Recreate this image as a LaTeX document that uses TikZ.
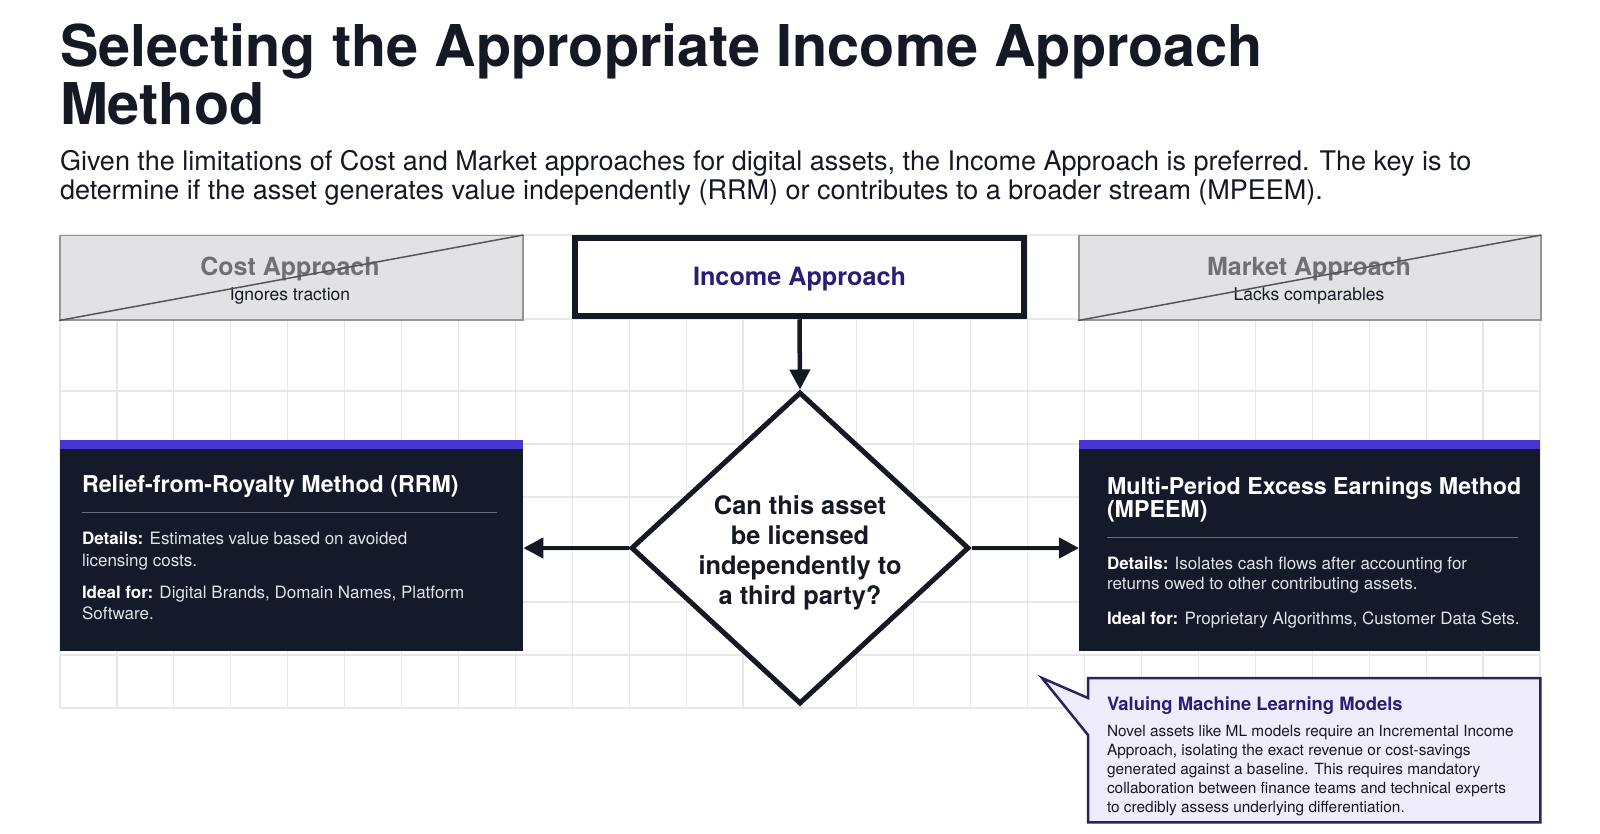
\documentclass[tikz,border=0pt]{standalone}
\usepackage{fontspec}
\setmainfont{TeX Gyre Heros}
\usetikzlibrary{shapes.geometric,arrows.meta,calc}
\definecolor{ink}{RGB}{21,25,36}
\definecolor{darkbg}{RGB}{21,26,42}
\definecolor{barc}{RGB}{74,52,212}
\definecolor{greyfill}{RGB}{226,226,228}
\definecolor{greyedge}{RGB}{150,150,152}
\definecolor{greydiag}{RGB}{85,85,90}
\definecolor{greytext}{RGB}{112,112,116}
\definecolor{indigo}{RGB}{44,28,120}
\definecolor{calfill}{RGB}{239,237,251}
\definecolor{caledge}{RGB}{40,36,100}
\definecolor{lighttext}{RGB}{225,226,232}
\definecolor{sepc}{RGB}{105,109,124}
\definecolor{gridc}{RGB}{232,232,234}
\newcommand\fz[2]{\fontsize{#1}{#2}\selectfont}
\tikzset{
  lbl/.style={anchor=base west, inner sep=0pt, outer sep=0pt, text=ink},
  clbl/.style={anchor=base, inner sep=0pt, outer sep=0pt},
  gridline/.style={draw=gridc, line width=1.2pt},
  greybox/.style={draw=greyedge, fill=greyfill, line width=1.5pt, minimum width=463pt, minimum height=84pt, inner sep=0pt, anchor=north west},
  darkbox/.style={fill=darkbg, minimum width=463pt, minimum height=211pt, inner sep=0pt, anchor=north west},
  sepline/.style={draw=sepc, line width=1pt},
  arrowc/.style={draw=ink, line width=4.5pt, -{Triangle[length=20pt,width=20pt]}},
  dtxt/.style={lbl, text=lighttext, font=\fz{17}{21}},
  dtitle/.style={lbl, text=white, font=\fz{23.2}{28}\bfseries},
  btxt/.style={lbl, text=ink, font=\fz{15.4}{19}},
}
\begin{document}
\begin{tikzpicture}[x=1pt,y=-1pt]
\useasboundingbox[fill=white] (0,0) rectangle (1600,834);

% grid
\foreach \i in {0,...,26} \draw[gridline] ({60+56.92*\i},235) -- ({60+56.92*\i},708);
\foreach \yy in {235,319,391,444,497,550,602,655,708} \draw[gridline] (60,\yy) -- (1540,\yy);

% title and subtitle
\node[lbl, font=\fz{57.6}{60}\bfseries] (t1) at (60,67) {Selecting the Appropriate Income Approach};
\node[lbl, font=\fz{57.6}{60}\bfseries] (t2) at (60,125) {Method};
\node[lbl, font=\fz{27}{30}] (s1) at (60,171) {Given the limitations of Cost and Market approaches for digital assets, the Income Approach is preferred. The key is to};
\node[lbl, font=\fz{27}{30}] (s2) at (60,200) {determine if the asset generates value independently (RRM) or contributes to a broader stream (MPEEM).};

% cost approach
\node[greybox] (cost) at (59,235) {};
\node[clbl, text=greytext, font=\fz{25}{30}\bfseries] (costt) at (290,276) {Cost Approach};
\node[clbl, text=ink, font=\fz{17.5}{21}] (costs) at (290,300) {Ignores traction};
\draw[greydiag, line width=1.5pt] (cost.south west) -- (cost.north east);

% market approach
\node[greybox, minimum width=462pt] (mkt) at (1078,235) {};
\node[clbl, text=greytext, font=\fz{25}{30}\bfseries] (mktt) at (1309,276) {Market Approach};
\node[clbl, text=ink, font=\fz{17.5}{21}] (mkts) at (1309,300) {Lacks comparables};
\draw[greydiag, line width=1.5pt] (mkt.south west) -- (mkt.north east);

% income approach
\node[draw=ink, fill=white, line width=6.5pt, minimum width=449pt, minimum height=78pt, inner sep=0pt] (inc) at (799.5,277) {};
\node[clbl, text=indigo, font=\fz{25.2}{30}\bfseries] (inct) at (799.5,285) {Income Approach};

% decision diamond
\node[diamond, draw=ink, fill=white, line width=5pt, minimum width=338pt, minimum height=312pt, inner sep=0pt] (dec) at (800,548) {};
\node[align=center, inner sep=0pt, text=ink, font=\fz{25.4}{30}\bfseries] (q) at ([yshift=-5pt]dec.center) {Can this asset\\be licensed\\independently to\\a third party?};

% RRM box
\node[darkbox] (rrm) at (60,440) {};
\fill[barc] (rrm.north west) rectangle ([yshift=-9pt]rrm.north east);
\node[dtitle] (rrmt) at (82,492) {Relief-from-Royalty Method (RRM)};
\draw[sepline] (82,512) -- (497,512);
\node[dtxt] (rrm1) at (82,544) {\textcolor{white}{\bfseries Details:} Estimates value based on avoided};
\node[dtxt] (rrm2) at (82,566) {licensing costs.};
\node[dtxt] (rrm3) at (82,598) {\textcolor{white}{\bfseries Ideal for:} Digital Brands, Domain Names, Platform};
\node[dtxt] (rrm4) at (82,619) {Software.};

% MPEEM box
\node[darkbox, minimum width=461pt] (mp) at (1079,440) {};
\fill[barc] (mp.north west) rectangle ([yshift=-9pt]mp.north east);
\node[dtitle] (mpt1) at (1107,494) {Multi-Period Excess Earnings Method};
\node[dtitle] (mpt2) at (1107,517) {(MPEEM)};
\draw[sepline] (1107,537) -- (1518,537);
\node[dtxt] (mp1) at (1107,569) {\textcolor{white}{\bfseries Details:} Isolates cash flows after accounting for};
\node[dtxt] (mp2) at (1107,589) {returns owed to other contributing assets.};
\node[dtxt] (mp3) at (1107,624) {\textcolor{white}{\bfseries Ideal for:} Proprietary Algorithms, Customer Data Sets.};

% connectors
\draw[arrowc] (inc.south) -- (dec.north);
\draw[arrowc] (dec.west) -- (dec.west -| rrm.east);
\draw[arrowc] (dec.east) -- (dec.east -| mp.west);

% callout
\node[minimum width=452pt, minimum height=144pt, inner sep=0pt, anchor=north west] (ml) at (1088,678) {};
\draw[fill=calfill, draw=caledge, line width=2.5pt, line join=miter]
  (ml.north west) -- (ml.north east) -- (ml.south east) -- (ml.south west)
  -- ([yshift=-57pt]ml.north west) -- ([xshift=-46pt]ml.north west)
  -- ([yshift=-20pt]ml.north west) -- cycle;
\node[lbl, text=indigo, font=\fz{18.4}{22}\bfseries] (mlt) at (1107,710) {Valuing Machine Learning Models};
\node[btxt] (ml1) at (1107,736) {Novel assets like ML models require an Incremental Income};
\node[btxt] (ml2) at (1107,755) {Approach, isolating the exact revenue or cost-savings};
\node[btxt] (ml3) at (1107,774) {generated against a baseline. This requires mandatory};
\node[btxt] (ml4) at (1107,793) {collaboration between finance teams and technical experts};
\node[btxt] (ml5) at (1107,812) {to credibly assess underlying differentiation.};
\end{tikzpicture}
\end{document}
